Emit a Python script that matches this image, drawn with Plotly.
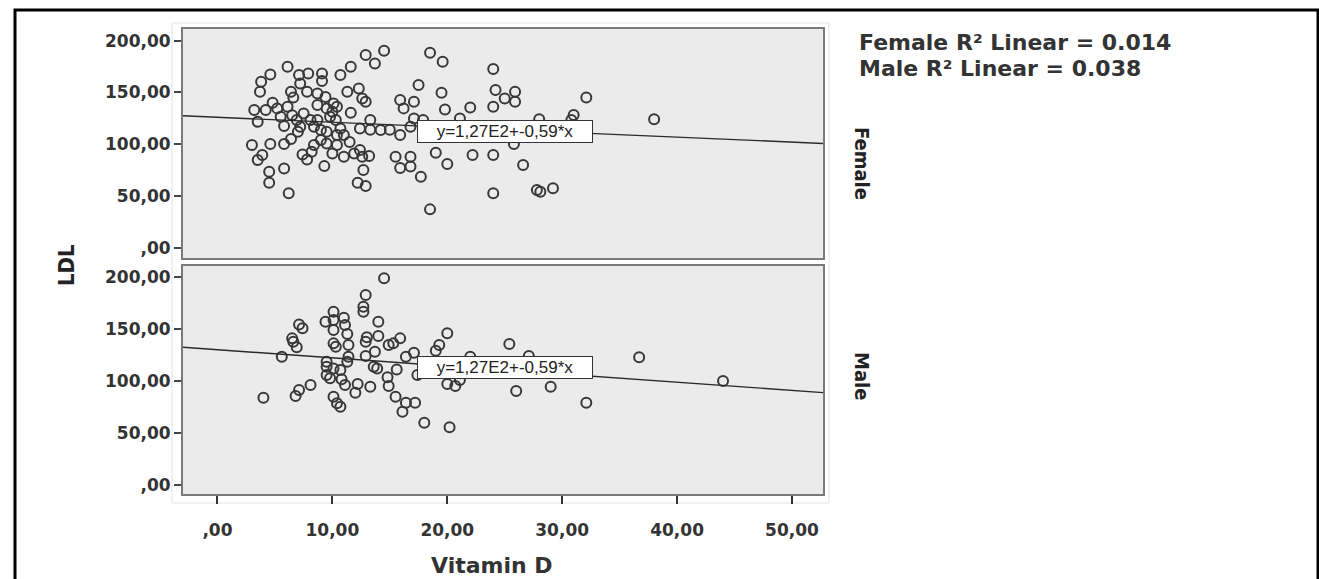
import plotly.graph_objects as go

W, H = 1319, 579

# ---------------- data ----------------
female_x = [14.5, 12.9, 13.7, 18.5, 19.6, 24.0, 6.1, 4.6, 3.8, 7.1, 7.9, 9.1, 9.1, 10.7, 11.6, 7.2,
            3.7, 6.4, 7.8, 8.7, 11.3, 12.3, 12.6, 12.9, 17.5, 19.5, 15.9, 17.1, 16.2, 19.8, 22.0, 24.0,
            24.2, 25.0, 3.2, 4.2, 5.2, 6.1, 5.5, 6.5, 7.5, 8.7, 9.5, 10.4, 9.8, 11.6, 3.5, 5.8, 6.9,
            8.1, 8.4, 7.2, 9.0, 9.5, 10.4, 11.0, 9.0, 8.4, 9.5, 10.4, 8.2, 7.4, 7.8, 10.0, 11.0, 11.9,
            12.4, 12.6, 13.2, 9.3, 3.0, 4.6, 5.8, 6.4, 3.9, 3.5, 5.8, 4.5, 4.5, 6.2, 12.2, 12.9, 12.7,
            15.5, 16.8, 15.9, 16.8, 17.7, 19.0, 20.0, 22.2, 24.0, 24.0, 18.5, 13.3, 14.2, 13.3, 15.0,
            15.9, 16.8, 17.1, 17.9, 21.1, 12.4, 10.7, 8.7, 10.1, 10.0, 10.3, 6.6, 9.4, 4.8, 7.0, 11.5,
            25.9, 25.9, 32.1, 28.0, 31.0, 30.8, 38.0, 25.8, 26.6, 27.8, 28.1, 29.2]
female_y = [190.2, 186.1, 178.0, 188.3, 179.6, 172.6, 174.8, 167.4, 160.3, 166.8, 168.4, 168.4, 161.0,
            166.8, 174.8, 158.7, 150.6, 150.6, 150.6, 149.0, 150.6, 153.9, 144.2, 141.0, 157.1, 149.7,
            142.6, 141.0, 134.6, 133.6, 135.5, 136.2, 152.3, 144.2, 133.0, 133.0, 134.6, 136.2, 126.5,
            128.0, 129.6, 137.8, 134.6, 136.2, 126.5, 130.3, 121.7, 117.5, 123.3, 123.3, 116.8, 116.8,
            113.6, 112.0, 108.8, 108.8, 104.0, 99.1, 100.7, 99.1, 92.7, 90.1, 85.3, 91.1, 87.8, 91.1,
            94.3, 87.8, 88.5, 78.8, 99.1, 100.1, 100.1, 104.9, 89.5, 84.6, 76.6, 73.3, 62.7, 52.5, 62.7,
            59.5, 75.0, 87.8, 87.8, 76.9, 78.5, 68.5, 91.7, 80.8, 89.5, 89.5, 52.5, 37.0, 123.3, 113.6,
            114.0, 114.0, 108.8, 116.8, 124.9, 123.3, 124.9, 115.2, 115.2, 123.3, 139.4, 131.3, 123.3,
            145.0, 145.5, 140.0, 112.0, 102.0,
            150.6, 141.0, 145.2, 124.0, 128.1, 123.3, 124.0, 100.1, 79.8, 55.7, 54.0, 57.3]

male_x = [14.5, 12.9, 12.7, 12.7, 10.1, 11.0, 9.4, 10.1, 11.1, 10.1, 11.3, 14.0, 7.1, 7.4, 6.5, 6.6,
          6.9, 5.6, 13.0, 14.0, 12.9, 10.1, 11.4, 10.3, 13.7, 12.9, 14.9, 15.3, 15.9, 17.1, 16.4, 11.4,
          11.3, 9.5, 9.5, 10.1, 9.5, 9.8, 10.7, 10.8, 11.1, 12.2, 12.0, 13.3, 13.6, 13.9, 15.6, 14.8,
          14.9, 15.5, 16.4, 17.2, 16.1, 18.0, 20.2, 10.1, 10.4, 10.7, 8.1, 7.1, 6.8, 4.0, 20.0, 19.3,
          19.0, 17.4, 20.0, 20.7, 21.1, 22.0, 25.4, 27.1, 26.0, 29.0, 32.1, 36.7, 44.0]
male_y = [198.7, 182.6, 171.4, 166.6, 166.6, 160.9, 157.0, 158.7, 153.9, 149.1, 145.3, 157.0, 154.5,
          150.7, 141.1, 137.9, 132.5, 123.5, 142.1, 143.3, 137.9, 136.3, 134.7, 133.1, 128.3, 124.2,
          134.7, 136.3, 141.1, 127.3, 123.5, 123.5, 118.7, 118.7, 113.9, 112.3, 105.9, 102.8, 110.7,
          101.8, 96.4, 97.4, 89.0, 94.7, 113.9, 112.3, 111.3, 103.7, 95.4, 85.1, 79.4, 79.4, 70.8, 60.2,
          55.8, 85.1, 78.8, 75.6, 96.4, 91.6, 85.8, 84.2, 145.9, 134.7, 129.3, 105.9, 97.4, 95.4, 101.2,
          123.5, 135.7, 124.2, 90.6, 94.7, 79.4, 122.9, 100.2]

# fitted lines as drawn: intercept, slope
female_fit = [126.0, -0.48]
male_fit = [130.2, -0.78]
fit_label = "y=1,27E2+-0,59*x"

x_range = [-3.0, 52.7]
x_ticks = [0, 10, 20, 30, 40, 50]
x_ticktext = [",00", "10,00", "20,00", "30,00", "40,00", "50,00"]
y_ticks = [0, 50, 100, 150, 200]
y_ticktext = [",00", "50,00", "100,00", "150,00", "200,00"]
female_r2 = "0.014"
male_r2 = "0.038"

# ---------------- figure ----------------
def px_x(p):
    return p / W

def px_y(p):
    return 1 - p / H

fig = go.Figure()

marker = dict(symbol="circle-open", size=10, color="#383838", line=dict(width=2, color="#383838"))

fig.add_trace(go.Scatter(x=female_x, y=female_y, mode="markers", marker=marker,
                         xaxis="x", yaxis="y", showlegend=False))
fig.add_trace(go.Scatter(x=male_x, y=male_y, mode="markers", marker=marker,
                         xaxis="x2", yaxis="y2", showlegend=False))

fx = [x_range[0], x_range[1]]
fig.add_trace(go.Scatter(x=fx, y=[female_fit[0] + female_fit[1] * v for v in fx], mode="lines",
                         line=dict(color="#2a2a2a", width=1.4), xaxis="x", yaxis="y", showlegend=False))
fig.add_trace(go.Scatter(x=fx, y=[male_fit[0] + male_fit[1] * v for v in fx], mode="lines",
                         line=dict(color="#2a2a2a", width=1.4), xaxis="x2", yaxis="y2", showlegend=False))

xdom = [px_x(183), px_x(823)]
tickfont = dict(family="DejaVu Sans", size=17, color="#333333", weight="bold")

common_axis = dict(showgrid=False, zeroline=False, showline=True, linecolor="#7a7a7a",
                   linewidth=2, mirror=True)

fig.update_layout(
    width=W, height=H,
    margin=dict(l=0, r=0, t=0, b=0),
    paper_bgcolor="white",
    plot_bgcolor="#ebebeb",
    xaxis=dict(domain=xdom, range=x_range, anchor="y", showticklabels=False, ticks="",
               tickvals=x_ticks, **common_axis),
    yaxis=dict(domain=[px_y(258), px_y(28.6)], range=[-10, 211.7], anchor="x",
               tickvals=y_ticks, ticktext=y_ticktext, ticks="outside", ticklen=7,
               tickwidth=2, tickcolor="#444444", tickfont=tickfont, **common_axis),
    xaxis2=dict(domain=xdom, range=x_range, anchor="y2", tickvals=x_ticks, ticktext=x_ticktext,
                ticks="outside", ticklen=8, tickwidth=2, tickcolor="#333333", tickfont=tickfont,
                ticklabelstandoff=12, **common_axis),
    yaxis2=dict(domain=[px_y(494), px_y(265.5)], range=[-8.2, 211], anchor="x2",
                tickvals=y_ticks, ticktext=y_ticktext, ticks="outside", ticklen=7,
                tickwidth=2, tickcolor="#444444", tickfont=tickfont, **common_axis),
)

# frames
fig.add_shape(type="rect", xref="paper", yref="paper",
              x0=px_x(172), x1=px_x(829), y0=px_y(503), y1=px_y(23),
              line=dict(color="#e2e2e2", width=1), layer="below")
fig.add_shape(type="rect", xref="paper", yref="paper",
              x0=px_x(15), x1=px_x(1318), y0=px_y(600), y1=px_y(10),
              line=dict(color="black", width=3))

ann_font = dict(family="Liberation Sans", size=17, color="#222222")
for xr, yr in (("x", "y"), ("x2", "y2")):
    fig.add_annotation(x=25, y=112.7, xref=xr, yref=yr, text=fit_label, showarrow=False,
                       xanchor="center", yanchor="middle",
                       font=ann_font, bgcolor="white", bordercolor="#333333", borderwidth=1,
                       width=172, height=19)

lab_font = dict(family="DejaVu Sans", size=22, color="#333333", weight="bold")
fig.add_annotation(x=px_x(857), y=px_y(42), xref="paper", yref="paper", xanchor="left",
                   yanchor="middle", showarrow=False, font=lab_font,
                   text=f"Female R² Linear = {female_r2}")
fig.add_annotation(x=px_x(857), y=px_y(68), xref="paper", yref="paper", xanchor="left",
                   yanchor="middle", showarrow=False, font=lab_font,
                   text=f"Male R² Linear = {male_r2}")

cond_font = dict(family="DejaVu Sans Condensed", size=20, color="#222222", weight="bold")
fig.add_annotation(x=px_x(862), y=px_y(163), xref="paper", yref="paper", showarrow=False,
                   xanchor="center", yanchor="middle", textangle=90, font=cond_font, text="Female")
fig.add_annotation(x=px_x(862), y=px_y(376), xref="paper", yref="paper", showarrow=False,
                   xanchor="center", yanchor="middle", textangle=90, font=cond_font, text="Male")
fig.add_annotation(x=px_x(67), y=px_y(265), xref="paper", yref="paper", showarrow=False,
                   xanchor="center", yanchor="middle", textangle=-90,
                   font=dict(family="DejaVu Sans Condensed", size=22, color="#222222", weight="bold"),
                   text="LDL")
fig.add_annotation(x=px_x(492), y=px_y(565), xref="paper", yref="paper", showarrow=False,
                   xanchor="center", yanchor="middle",
                   font=dict(family="DejaVu Sans", size=22, color="#333333", weight="bold"),
                   text="Vitamin D")

fig.write_html("out.html", config={"displayModeBar": False},
               post_script="document.body.style.margin='0';document.body.style.overflow='hidden';")
